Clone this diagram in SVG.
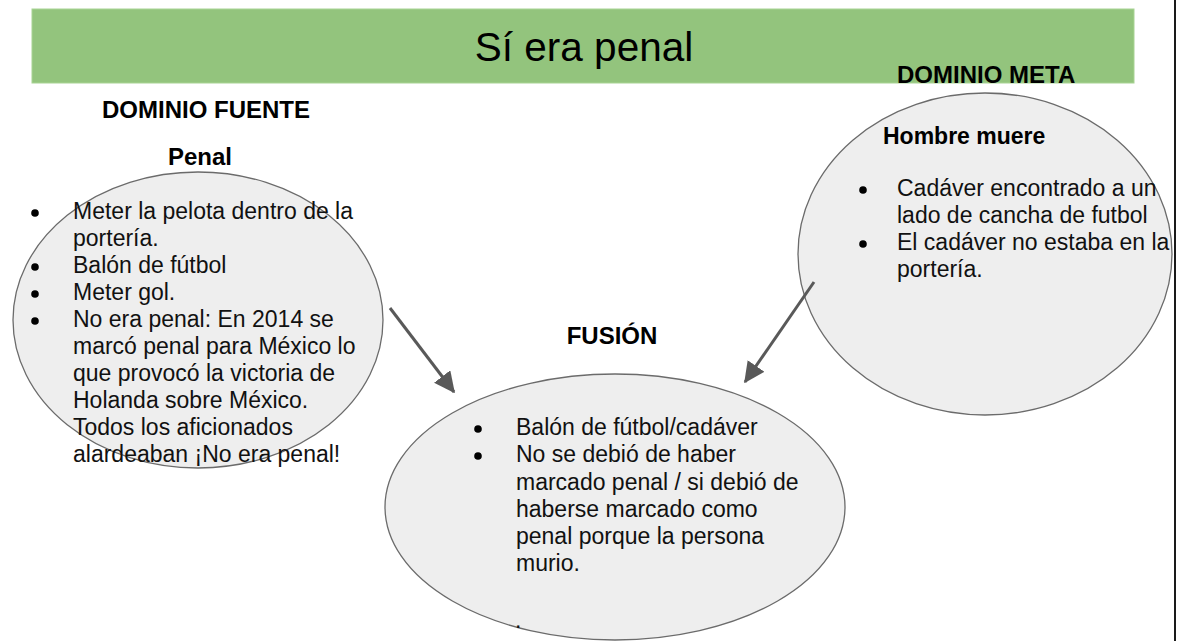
<svg xmlns="http://www.w3.org/2000/svg" width="1183" height="641" viewBox="0 0 1183 641">
<defs>
<style>
.bubble{fill:#eeeeee;stroke:#6b6b6b;stroke-width:1.3}
.t{font-family:"Liberation Sans",Arial,sans-serif;font-size:23px;fill:#111}
.h{font-family:"Liberation Sans",Arial,sans-serif;font-size:24px;font-weight:bold;fill:#000}
.arrow{stroke:#595959;stroke-width:3;fill:none}
</style>
<marker id="ah" markerWidth="7" markerHeight="7" refX="6.5" refY="3.4" orient="auto" markerUnits="strokeWidth">
<path d="M0,0 L7,3.4 L0,6.8 Z" fill="#595959"/>
</marker>
</defs>
<rect width="1183" height="641" fill="#ffffff"/>
<g id="banner">
<rect x="32" y="9" width="1102" height="74" fill="#93c47d" stroke="#a8d494" stroke-width="1"/>
<text x="584" y="61" text-anchor="middle" style="font-family:'Liberation Sans',Arial,sans-serif;font-size:40.5px;fill:#000">Sí era penal</text>
</g>
<line x1="1175" y1="0" x2="1175" y2="641" stroke="#1a1a1a" stroke-width="2"/>
<g id="fuente">
<text class="h" x="206" y="118" text-anchor="middle">DOMINIO FUENTE</text>
<text class="h" x="200" y="165" text-anchor="middle">Penal</text>
<ellipse class="bubble" cx="198" cy="320" rx="185" ry="148"/>
<g fill="#000">
<circle cx="35" cy="213" r="3.8"/>
<circle cx="35" cy="267" r="3.8"/>
<circle cx="35" cy="294" r="3.8"/>
<circle cx="35" cy="321" r="3.8"/>
</g>
<text class="t" x="73" y="219">Meter la pelota dentro de la</text>
<text class="t" x="73" y="246">portería.</text>
<text class="t" x="73" y="273">Balón de fútbol</text>
<text class="t" x="73" y="300">Meter gol.</text>
<text class="t" x="73" y="327">No era penal: En 2014 se</text>
<text class="t" x="73" y="354">marcó penal para México lo</text>
<text class="t" x="73" y="381">que provocó la victoria de</text>
<text class="t" x="73" y="408">Holanda sobre México.</text>
<text class="t" x="73" y="435">Todos los aficionados</text>
<text class="t" x="73" y="462">alardeaban ¡No era penal!</text>
</g>
<g id="meta">
<ellipse class="bubble" cx="985" cy="254" rx="187" ry="161"/>
<text class="h" x="897" y="83">DOMINIO META</text>
<text class="h" x="883" y="144" style="font-size:23px">Hombre muere</text>
<g fill="#000">
<circle cx="863" cy="190" r="3.8"/>
<circle cx="863" cy="244" r="3.8"/>
</g>
<text class="t" x="897" y="196">Cadáver encontrado a un</text>
<text class="t" x="897" y="223">lado de cancha de futbol</text>
<text class="t" x="897" y="250">El cadáver no estaba en la</text>
<text class="t" x="897" y="277">portería.</text>
</g>
<g id="fusion">
<text class="h" x="612" y="344" text-anchor="middle">FUSIÓN</text>
<ellipse class="bubble" cx="615" cy="507" rx="230" ry="133"/>
<g fill="#000">
<circle cx="478" cy="429" r="3.8"/>
<circle cx="478" cy="456" r="3.8"/>
</g>
<text class="t" x="516" y="435">Balón de fútbol/cadáver</text>
<text class="t" x="516" y="462">No se debió de haber</text>
<text class="t" x="516" y="490">marcado penal / si debió de</text>
<text class="t" x="516" y="517">haberse marcado como</text>
<text class="t" x="516" y="544">penal porque la persona</text>
<text class="t" x="516" y="571">murio.</text>
<text class="t" x="515" y="628">.</text>
</g>
<g id="connectors">
<line class="arrow" x1="390" y1="308" x2="454" y2="392" marker-end="url(#ah)"/>
<line class="arrow" x1="814" y1="282" x2="745" y2="382" marker-end="url(#ah)"/>
</g>
</svg>
